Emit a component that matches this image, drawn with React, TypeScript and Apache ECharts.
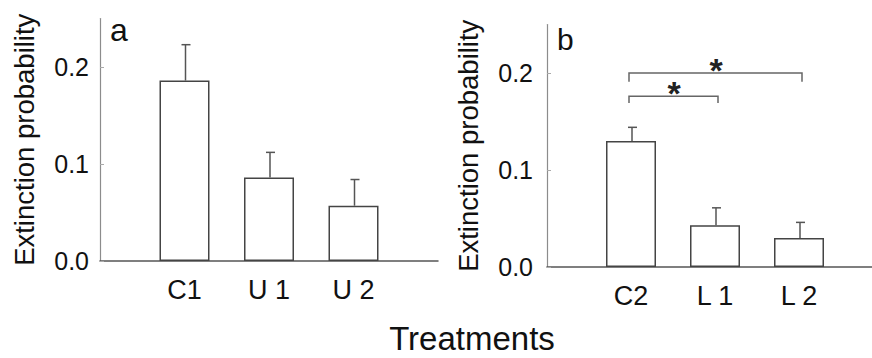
import React, { useEffect, useRef } from "react";
import * as echarts from "echarts";

const catsA = ["", "C1", "U 1", "U 2", ""];
const meansA = [0.186, 0.086, 0.057];
const seA = [0.037, 0.026, 0.027];
const catsB = ["", "C2", "L 1", "L 2", ""];
const meansB = [0.13, 0.043, 0.03];
const seB = [0.014, 0.018, 0.016];
const yTicks = [0, 0.1, 0.2];
// brackets: [fromIndex, toIndex, lineValue, tickEndValue, label]
const brackets: [number, number, number, number, string][] = [
  [1, 3, 0.2, 0.191, "*"],
  [1, 2, 0.176, 0.169, "*"],
];

const FONT = "'Liberation Sans', Arial, sans-serif";
const TEXT = "#111";

function barData(means: number[]) {
  return means.map((m, i) => [i + 1, m]);
}
function errData(means: number[], se: number[]) {
  return means.map((m, i) => [i + 1, m, m + se[i]]);
}

const errRender = (params: any, api: any) => {
  const x = api.value(0);
  const p0 = api.coord([x, api.value(1)]);
  const p1 = api.coord([x, api.value(2)]);
  const style = { stroke: "#555", lineWidth: 1.5 };
  return {
    type: "group",
    children: [
      { type: "line", shape: { x1: p0[0] + 1, y1: p0[1], x2: p1[0] + 1, y2: p1[1] }, style },
      { type: "line", shape: { x1: p1[0] - 3, y1: p1[1], x2: p1[0] + 6, y2: p1[1] }, style },
    ],
  };
};

const bracketRender = (params: any, api: any) => {
  const a = api.coord([api.value(0), api.value(2)]);
  const b = api.coord([api.value(1), api.value(2)]);
  const t = api.coord([api.value(0), api.value(3)]);
  const drop = t[1] - a[1];
  const style = { stroke: "#666", lineWidth: 1.5, fill: "none" };
  const fs = 34;
  const label = brackets[params.dataIndex][4];
  return {
    type: "group",
    children: [
      {
        type: "polyline",
        shape: { points: [[a[0] - 2, a[1] + drop], [a[0] - 2, a[1]], [b[0] + 3, b[1]], [b[0] + 3, b[1] + drop]] },
        style,
      },
      {
        type: "text",
        style: {
          text: label,
          x: (a[0] + b[0]) / 2 + 1,
          y: a[1] - 10.5 + 0.22 * fs,
          fontSize: fs,
          fontFamily: FONT,
          fontWeight: "bold",
          fill: "#222",
          align: "center",
          verticalAlign: "middle",
        },
      },
    ],
  };
};

function yAxis(gridIndex: number, nameGap: number, labelMargin: number) {
  return {
    type: "value",
    gridIndex,
    min: 0,
    max: 0.25,
    interval: 0.1,
    name: "Extinction probability",
    nameLocation: "middle",
    nameGap,
    nameTextStyle: { fontSize: 27.5, fontFamily: FONT, color: TEXT },
    axisLine: { show: true, lineStyle: { color: "#8c8c8c", width: 1.2 } },
    axisTick: { show: true, inside: true, length: 4, lineStyle: { color: "#aaa" } },
    splitLine: { show: false },
    axisLabel: {
      fontSize: 25,
      fontFamily: FONT,
      color: TEXT,
      margin: labelMargin,
      showMaxLabel: false,
      formatter: (v: number) => (yTicks.some((t) => Math.abs(t - v) < 1e-9) ? v.toFixed(1) : ""),
    },
  };
}

function xAxis(gridIndex: number, data: string[]) {
  return {
    type: "category",
    gridIndex,
    data,
    boundaryGap: false,
    axisLine: { show: true, onZero: false, lineStyle: { color: "#555", width: 1.5 } },
    axisTick: { show: false },
    axisLabel: { fontSize: 27, fontFamily: FONT, color: TEXT, margin: 15, interval: 0 },
    splitLine: { show: false },
  };
}

export default function App() {
  const ref = useRef<HTMLDivElement>(null);
  useEffect(() => {
    if (!ref.current) return;
    const chart = echarts.init(ref.current, null, { renderer: "svg" });
    const barStyle = { color: "#fff", borderColor: "#444", borderWidth: 1.5 };
    chart.setOption({
      animation: false,
      backgroundColor: "#fff",
      grid: [
        { left: 100, top: 18.5, width: 338, bottom: 97, outerBoundsMode: "none", containLabel: false },
        { left: 547, top: 24.5, width: 336, bottom: 91, outerBoundsMode: "none", containLabel: false },
      ],
      xAxis: [xAxis(0, catsA), xAxis(1, catsB)],
      yAxis: [yAxis(0, 62, 11), yAxis(1, 65, 14)],
      series: [
        { type: "bar", xAxisIndex: 0, yAxisIndex: 0, data: barData(meansA), barWidth: 50, itemStyle: barStyle, silent: true },
        { type: "custom", xAxisIndex: 0, yAxisIndex: 0, data: errData(meansA, seA), renderItem: errRender, silent: true, z: 3 },
        { type: "bar", xAxisIndex: 1, yAxisIndex: 1, data: barData(meansB), barWidth: 50, itemStyle: barStyle, silent: true },
        { type: "custom", xAxisIndex: 1, yAxisIndex: 1, data: errData(meansB, seB), renderItem: errRender, silent: true, z: 3 },
        {
          type: "custom",
          xAxisIndex: 1,
          yAxisIndex: 1,
          data: brackets.map((b) => [b[0], b[1], b[2], b[3]]),
          renderItem: bracketRender,
          silent: true,
          z: 4,
        },
      ],
      graphic: [
        { type: "text", left: 110, top: 14, style: { text: "a", fontSize: 32, fontFamily: FONT, fill: TEXT } },
        { type: "text", left: 557, top: 24, style: { text: "b", fontSize: 30, fontFamily: FONT, fill: TEXT } },
        {
          type: "text",
          x: 472,
          y: 338,
          style: { text: "Treatments", fontSize: 33, fontFamily: FONT, fill: TEXT, align: "center", verticalAlign: "middle" },
        },
      ],
    });
    return () => chart.dispose();
  }, []);
  return <div ref={ref} style={{ width: 872, height: 358, position: "absolute", left: 0, top: 0 }} />;
}
